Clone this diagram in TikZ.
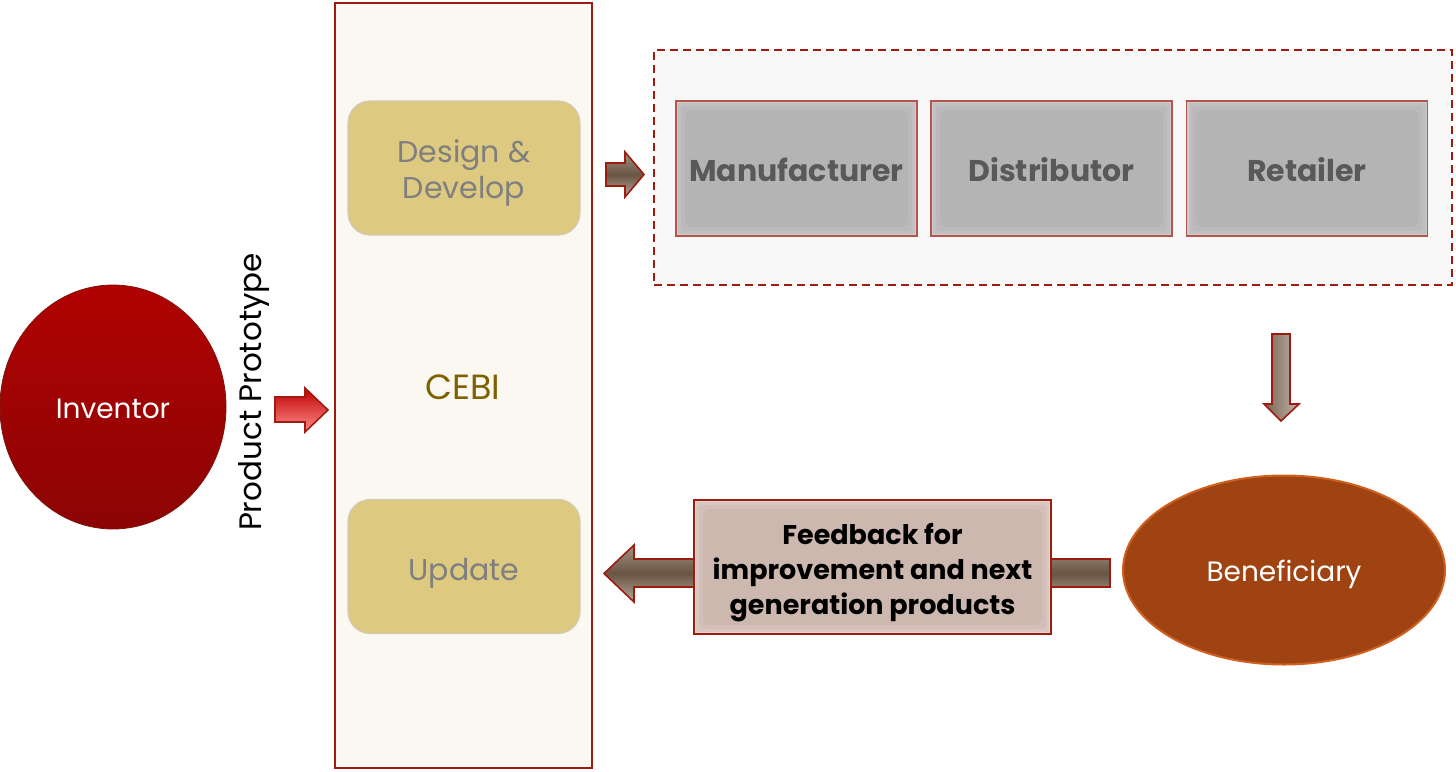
\documentclass[tikz,border=0pt]{standalone}
\usepackage{fontspec}
\setmainfont{Poppins}
\usetikzlibrary{shapes.geometric}
\definecolor{dred}{HTML}{9E1B10}
\definecolor{panelfill}{HTML}{FBF8F1}
\definecolor{gold}{HTML}{DEC981}
\definecolor{goldline}{HTML}{D2CBB6}
\definecolor{graytext}{HTML}{7F7F7F}
\definecolor{cebitext}{HTML}{7F6000}
\definecolor{boxgray}{HTML}{B4B4B4}
\definecolor{boxedge}{HTML}{CCCCCC}
\definecolor{boxline}{HTML}{B5534C}
\definecolor{darktext}{HTML}{595959}
\definecolor{lightbg}{HTML}{F8F8F8}
\definecolor{benfill}{HTML}{A04312}
\definecolor{benline}{HTML}{D0601F}
\definecolor{fbfill}{HTML}{CCB8AF}
\definecolor{fbedge}{HTML}{E2D6D1}
\definecolor{brownA}{HTML}{A39484}
\definecolor{brownB}{HTML}{6A5443}
\newcommand\dn[2]{\raisebox{-#1}[\height][\depth]{\begin{tabular}{@{}c@{}}#2\end{tabular}}}
\tikzset{
  panel/.style={draw=dred, line width=1pt, fill=panelfill, inner sep=0pt},
  goldbox/.style={draw=goldline, line width=0.6pt, fill=gold, rounded corners=11pt, minimum width=116pt, minimum height=67pt, inner sep=0pt, text=graytext, font=\fontsize{15}{18}\selectfont},
  glow/.style 2 args={path picture={
     \fill[#1!50!#2] ([shift={(2,2)}]path picture bounding box.north west) rectangle ([shift={(-2,-2)}]path picture bounding box.south east);
     \fill[#1!25!#2, rounded corners=2pt] ([shift={(5,5)}]path picture bounding box.north west) rectangle ([shift={(-5,-5)}]path picture bounding box.south east);
     \fill[#2, rounded corners=4pt] ([shift={(9,9)}]path picture bounding box.north west) rectangle ([shift={(-9,-9)}]path picture bounding box.south east);}},
  chainbox/.style={draw=boxline, line width=0.8pt, fill=boxedge, glow={boxedge}{boxgray}, minimum width=120.5pt, minimum height=67.5pt, inner sep=0pt, text=darktext, font=\fontsize{15}{18}\selectfont\bfseries},
  brownarrowH/.style={draw=dred, line width=0.8pt, top color=brownA, bottom color=brownA!80!white, middle color=brownB},
  brownarrowV/.style={draw=dred, line width=0.8pt, left color=brownB!90!white, right color=brownA!70!white},
  redarrow/.style={draw=dred, line width=0.8pt, top color=red!75!black, bottom color=red!45!white},
}
\begin{document}
\begin{tikzpicture}[x=0.5pt,y=-0.5pt]
\useasboundingbox (0,0) rectangle (1456,771);
% Inventor
\node[ellipse, draw=dred!80!black, line width=0.4pt, top color={rgb,255:red,176;green,2;blue,2}, bottom color={rgb,255:red,140;green,4;blue,4}, minimum width=113pt, minimum height=122pt, inner sep=0pt, text=white, font=\fontsize{14}{17}\selectfont] (inv) at (113,407) {\dn{2.5pt}{Inventor}};
% Product Prototype label
\node[rotate=90, font=\fontsize{15.5}{18}\selectfont, inner sep=0pt] (pp) at (254,392) {Product Prototype};
% red arrow
\path[redarrow] (275,397) -- (305,397) -- (305,388) -- (328,410) -- (305,432) -- (305,422) -- (275,422) -- cycle;
% CEBI panel
\node[panel, minimum width=128.5pt, minimum height=382.5pt] (cebi) at (463.5,385.5) {};
\node[text=cebitext, font=\fontsize{17.5}{20}\selectfont, inner sep=0pt] (cebilabel) at (463,387) {CEBI};
\node[goldbox] (design) at (464,168) {\dn{2.5pt}{Design \&\\Develop}};
\node[goldbox] (update) at (464,566.5) {\dn{3.3pt}{Update}};
% small right arrow
\path[brownarrowH] (606,163) -- (625,163) -- (625,152) -- (644,174.5) -- (625,197) -- (625,186) -- (606,186) -- cycle;
% dashed container
\node[draw=dred, dashed, dash pattern=on 4pt off 2.5pt, line width=1pt, fill=lightbg, minimum width=399pt, minimum height=117.5pt, inner sep=0pt] (chain) at (1053,167.5) {};
\node[chainbox] (manu) at (796.5,168.5) {\dn{3pt}{Manufacturer}};
\node[chainbox] (dist) at (1051.5,168.5) {\dn{3pt}{Distributor}};
\node[chainbox] (ret) at (1307,168.5) {\dn{3pt}{Retailer}};
% down arrow
\path[brownarrowV] (1272,334) -- (1290,334) -- (1290,404) -- (1299,404) -- (1281,421) -- (1264,404) -- (1272,404) -- cycle;
% Beneficiary
\node[ellipse, draw=benline, line width=1pt, fill=benfill, minimum width=161pt, minimum height=94.5pt, inner sep=0pt, text=white, font=\fontsize{14}{17}\selectfont] (ben) at (1284,570) {\dn{2.5pt}{Beneficiary}};
% feedback arrow
\path[brownarrowH] (1110,559) -- (634,559) -- (634,545) -- (604,573.5) -- (634,602) -- (634,587) -- (1110,587) -- cycle;
\node[draw=dred, line width=0.8pt, fill=fbedge, glow={fbedge}{fbfill}, minimum width=178.5pt, minimum height=67pt, inner sep=0pt, font=\fontsize{13.5}{17.5}\selectfont\bfseries] (fb) at (872.5,567) {\dn{2.5pt}{Feedback for\\improvement and next\\generation products}};
\end{tikzpicture}
\end{document}
